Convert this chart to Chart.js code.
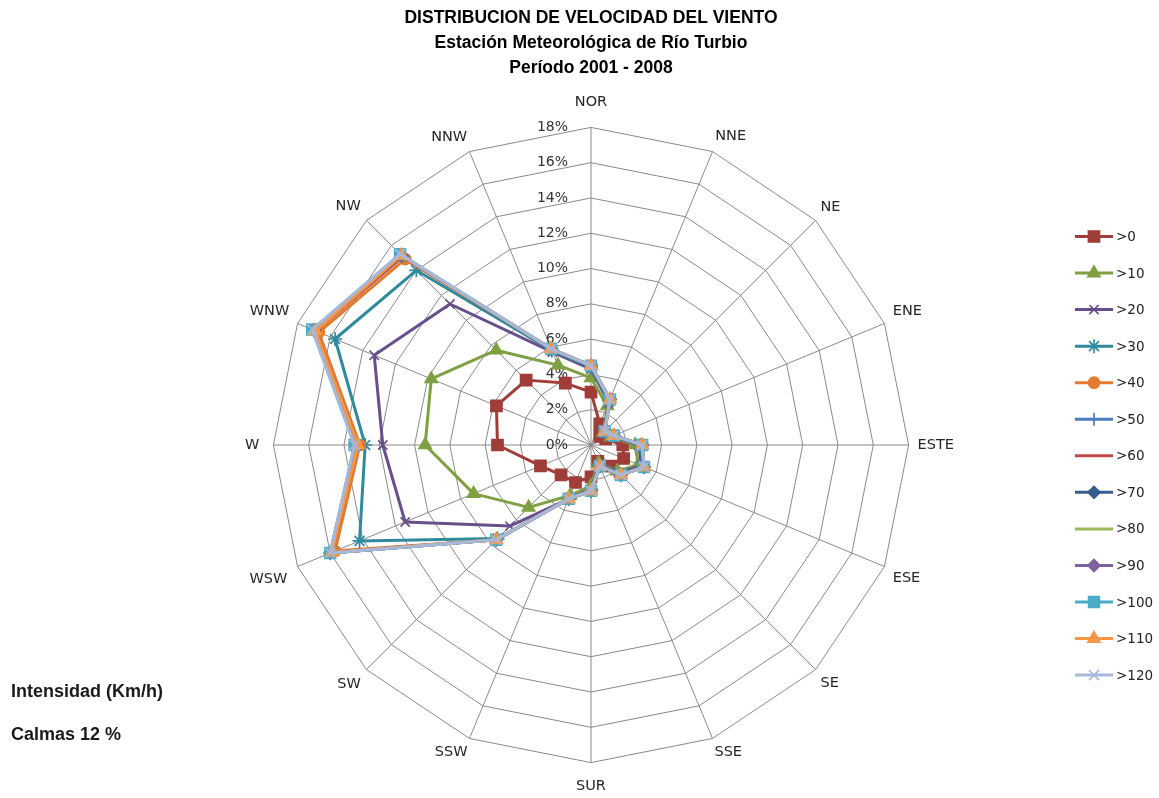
<!DOCTYPE html>
<html>
<head>
<meta charset="utf-8">
<script src="https://cdn.jsdelivr.net/npm/chart.js@4.4.1/dist/chart.umd.min.js"></script>
<style>
  html, body { margin: 0; padding: 0; background: #ffffff; }
  #wrap { position: relative; width: 1159px; height: 798px; }
</style>
</head>
<body>
<div id="wrap"><canvas id="rose" width="1159" height="798"></canvas></div>
<script>
// Wind directions (clockwise from north)
const directions = ['NOR', 'NNE', 'NE', 'ENE', 'ESTE', 'ESE', 'SE', 'SSE', 'SUR', 'SSW', 'SW', 'WSW', 'W', 'WNW', 'NW', 'NNW'];

// Speed classes (km/h), cumulative frequency in %
const speedClasses = ['>0', '>10', '>20', '>30', '>40', '>50', '>60', '>70', '>80', '>90', '>100', '>110', '>120'];

const freq0   = [3.0, 1.3, 0.7, 0.9, 1.8, 2.0, 1.7, 1.0, 1.8, 2.3, 2.4, 3.1, 5.3, 5.8, 5.2, 3.8];
const freq10  = [3.8, 2.4, 1.0, 1.2, 2.5, 2.9, 2.1, 1.1, 2.3, 3.1, 5.0, 7.2, 9.4, 9.8, 7.6, 4.9];
const freq20  = [4.3, 2.6, 1.05, 1.3, 2.7, 3.1, 2.2, 1.2, 2.5, 3.3, 6.5, 11.4, 11.8, 13.3, 11.3, 5.7];
const freq30  = [4.4, 2.7, 1.1, 1.35, 2.8, 3.2, 2.3, 1.25, 2.6, 3.3, 7.5, 14.2, 12.8, 15.7, 14.0, 5.8];
const freq40  = [4.5, 2.8, 1.1, 1.4, 2.9, 3.25, 2.4, 1.3, 2.6, 3.3, 7.6, 15.7, 13.1, 16.7, 14.9, 5.9];
const freq50  = [4.5, 2.8, 1.1, 1.4, 2.9, 3.25, 2.4, 1.3, 2.6, 3.3, 7.6, 15.9, 13.2, 16.9, 15.1, 5.9];
const freq60  = [4.5, 2.8, 1.1, 1.4, 2.9, 3.25, 2.4, 1.3, 2.6, 3.3, 7.6, 15.9, 13.2, 16.9, 15.1, 5.9];
const freq70  = [4.5, 2.8, 1.1, 1.4, 2.9, 3.25, 2.4, 1.3, 2.6, 3.3, 7.6, 16.0, 13.3, 17.0, 15.2, 5.9];
const freq80  = [4.5, 2.8, 1.1, 1.4, 2.9, 3.25, 2.4, 1.3, 2.6, 3.3, 7.6, 16.0, 13.3, 17.0, 15.2, 5.9];
const freq90  = [4.5, 2.8, 1.1, 1.4, 2.9, 3.25, 2.4, 1.3, 2.6, 3.3, 7.6, 16.0, 13.3, 17.0, 15.2, 5.9];
const freq100 = [4.5, 2.8, 1.1, 1.4, 2.9, 3.25, 2.4, 1.3, 2.6, 3.3, 7.6, 16.0, 13.4, 17.1, 15.3, 5.9];
const freq110 = [4.5, 2.8, 1.1, 1.4, 2.9, 3.25, 2.4, 1.3, 2.6, 3.3, 7.6, 15.9, 13.2, 16.9, 15.2, 5.9];
const freq120 = [4.5, 2.8, 1.1, 1.4, 2.9, 3.25, 2.4, 1.3, 2.6, 3.3, 7.6, 16.0, 13.4, 17.1, 15.3, 5.9];

// Radial tick values and their labels
const tickValues = [0, 2, 4, 6, 8, 10, 12, 14, 16, 18];
const tickLabels = ['0%', '2%', '4%', '6%', '8%', '10%', '12%', '14%', '16%', '18%'];

const titleLines = ['DISTRIBUCION DE VELOCIDAD DEL VIENTO', 'Estación Meteorológica de Río Turbio', 'Período 2001 - 2008'];
const noteLines = ['Intensidad (Km/h)', 'Calmas 12 %'];

// Styling per speed class
const seriesData = [freq0, freq10, freq20, freq30, freq40, freq50, freq60, freq70, freq80, freq90, freq100, freq110, freq120];
const lineColors = ['#A13D39', '#7EA043', '#684F8C', '#2F8A9E', '#E27B2E', '#4A7EBB', '#BE4B48', '#355E8F', '#9ABB58', '#7E61A1', '#4BACC6', '#F79646', '#A6B9DB'];
const markerStyles = ['rect', 'triangle', 'crossRot', 'star', 'circle', 'cross', 'line', 'rectRot', 'line', 'rectRot', 'rect', 'triangle', 'crossRot'];
const markerRadii = [7.8, 7, 6.5, 7, 5.5, 6.5, 5.5, 6, 5.5, 6, 7.6, 7, 7];
// Point label distance from the outer ring, per direction
const labelPad = [16, 7, 7, 9, 9, 9, 7, 5, 15, 5, 8, 11, 14, 9, 8, 6];

const FONT = 'DejaVu Sans';

const datasets = speedClasses.map((name, i) => ({
  label: name,
  data: seriesData[i],
  borderColor: lineColors[i],
  backgroundColor: lineColors[i],
  borderWidth: 3,
  fill: false,
  tension: 0,
  pointStyle: markerStyles[i],
  pointRadius: markerRadii[i],
  pointHoverRadius: markerRadii[i],
  pointBackgroundColor: lineColors[i],
  pointBorderColor: lineColors[i],
  pointBorderWidth: 1.7,
  order: speedClasses.length - i
}));

// Percent labels along the north spoke, drawn beneath the series
const tickLabelPlugin = {
  id: 'tickLabelPlugin',
  beforeDatasetsDraw(chart) {
    const s = chart.scales.r;
    const ctx = chart.ctx;
    ctx.save();
    ctx.font = '14px "' + FONT + '"';
    ctx.fillStyle = '#333333';
    ctx.textAlign = 'right';
    ctx.textBaseline = 'middle';
    tickValues.forEach((v, i) => {
      const d = s.getDistanceFromCenterForValue(v);
      ctx.fillText(tickLabels[i], s.xCenter - 23, s.yCenter - d);
    });
    ctx.restore();
  }
};

// Title, notes and series key
const decorPlugin = {
  id: 'decorPlugin',
  afterDraw(chart) {
    const ctx = chart.ctx;
    ctx.save();
    ctx.fillStyle = '#000000';
    ctx.textAlign = 'center';
    ctx.textBaseline = 'middle';
    ctx.font = 'bold 17.5px "Liberation Sans"';
    titleLines.forEach((t, i) => ctx.fillText(t, 591, 18 + i * 25));

    ctx.textAlign = 'left';
    ctx.fillStyle = '#1a1a1a';
    ctx.font = 'bold 18px "Liberation Sans"';
    ctx.fillText(noteLines[0], 11, 692);
    ctx.fillText(noteLines[1], 11, 735);

    const drawPoint = Chart.helpers && Chart.helpers.drawPoint;
    ctx.font = '13.5px "' + FONT + '"';
    ctx.textBaseline = 'middle';
    chart.data.datasets.forEach((ds, i) => {
      const y = 236.5 + i * 36.55;
      ctx.strokeStyle = ds.borderColor;
      ctx.lineWidth = 3;
      ctx.beginPath();
      ctx.moveTo(1075, y);
      ctx.lineTo(1113, y);
      ctx.stroke();
      if (drawPoint) {
        ctx.fillStyle = ds.pointBackgroundColor;
        ctx.strokeStyle = ds.pointBorderColor;
        ctx.lineWidth = ds.pointBorderWidth;
        drawPoint(ctx, { pointStyle: ds.pointStyle, rotation: 0, radius: ds.pointRadius, borderWidth: ds.pointBorderWidth }, 1094, y);
      }
      ctx.fillStyle = '#222222';
      ctx.fillText(ds.label, 1116, y + 1);
    });
    ctx.restore();
  }
};

new Chart(document.getElementById('rose'), {
  type: 'radar',
  data: { labels: directions, datasets },
  options: {
    responsive: false,
    animation: false,
    layout: { padding: { left: 100, right: 77, top: 94, bottom: 2 } },
    plugins: {
      legend: { display: false },
      title: { display: false },
      tooltip: { enabled: false }
    },
    elements: { line: { borderJoinStyle: 'round' } },
    scales: {
      r: {
        min: 0,
        max: 18,
        startAngle: 0,
        ticks: { stepSize: 2, display: false },
        grid: { color: '#8a8a8a', lineWidth: 1 },
        angleLines: { color: '#8a8a8a', lineWidth: 1 },
        pointLabels: {
          color: '#262626',
          font: { family: FONT, size: 14.5 },
          padding: (ctx) => labelPad[ctx.index]
        }
      }
    }
  },
  plugins: [tickLabelPlugin, decorPlugin]
});
</script>
</body>
</html>
